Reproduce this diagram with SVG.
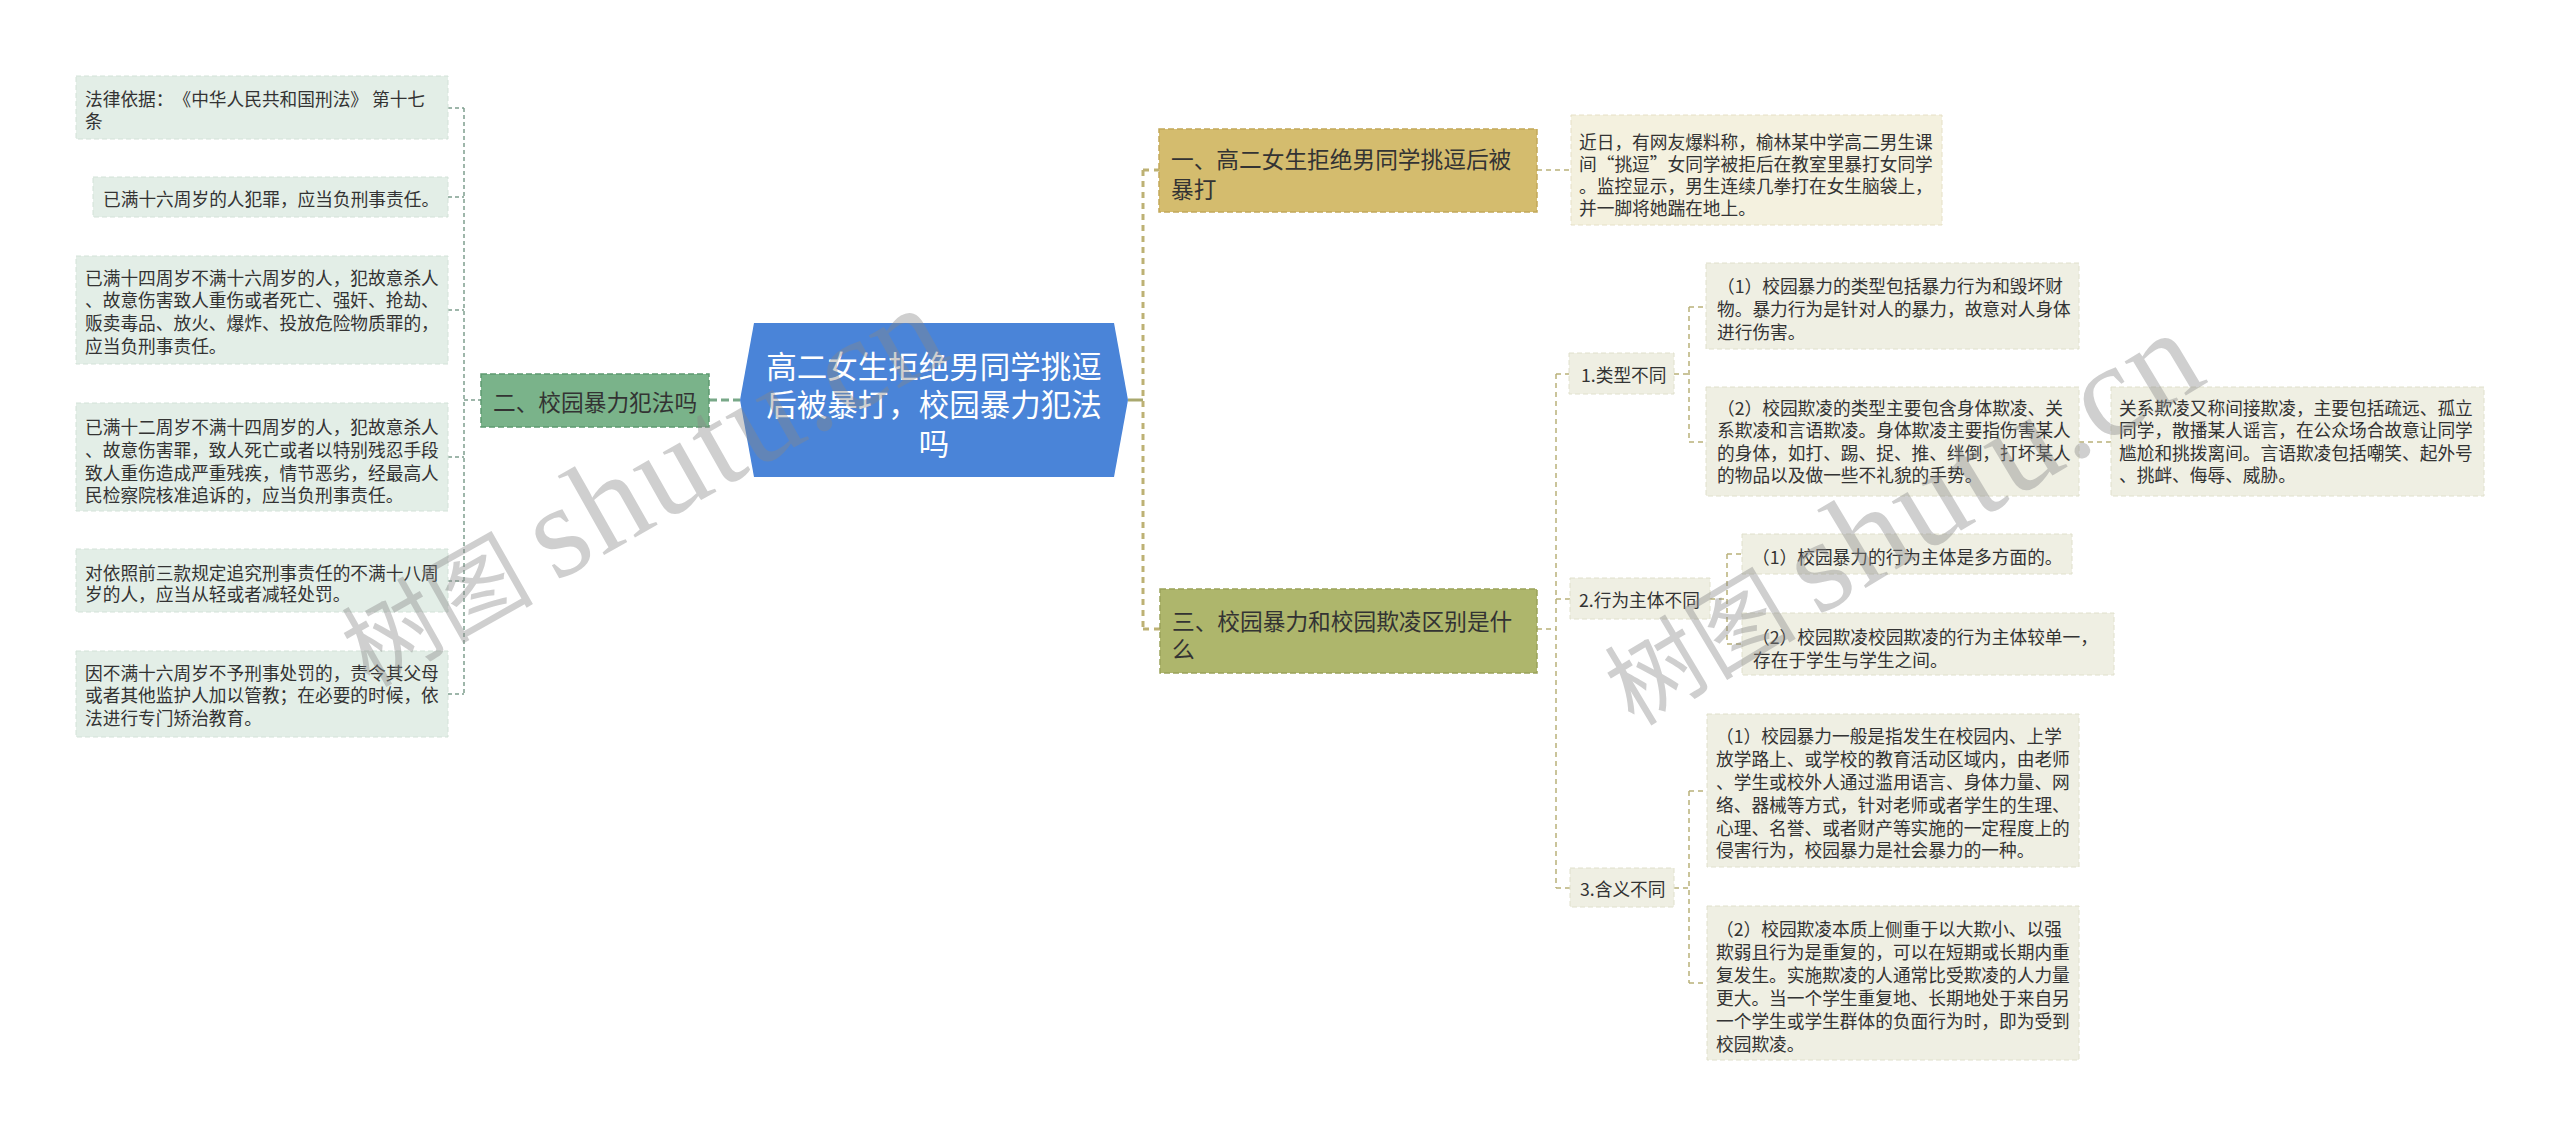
<svg xmlns="http://www.w3.org/2000/svg" width="2560" height="1137" viewBox="0 0 2560 1137">
<style>
text{font-family:"Noto Sans CJK SC","Noto Sans",sans-serif;dominant-baseline:central;fill:#333;text-spacing-trim:space-all;font-feature-settings:"chws" 0}
.lf{font-size:17.7px}
.hd{font-size:22.7px}
.gl{fill:#e3eee7;stroke:#d3e2d8;stroke-width:1;stroke-dasharray:5 3}
.cl{fill:#f4f1df;stroke:#e6e0c6;stroke-width:1;stroke-dasharray:5 3}
.ol{fill:#efefe3;stroke:#e0e0cc;stroke-width:1;stroke-dasharray:5 3}
.cg{fill:none;stroke:#7f9f8f;stroke-width:1.5;stroke-dasharray:4 3}
.cy{fill:none;stroke:#b9b17a;stroke-width:1.5;stroke-dasharray:5 4}
.wm{font-family:"Liberation Serif","Noto Sans CJK SC",serif;font-size:96px;fill:#888;opacity:0.4;dominant-baseline:alphabetic}
.wl{font-size:132px}
</style>
<g id="connectors">
<path class="cg" d="M448 108H464M448 197H464M448 310H464M448 457H464M448 581H464M448 694H464M464 108V694M464 400H481"/>
<path d="M709 400H740" fill="none" stroke="#78a888" stroke-width="3" stroke-dasharray="8 4"/>
<path d="M1128 400H1143" fill="none" stroke="#a9a86f" stroke-width="3"/>
<path d="M1143 170V629M1143 170H1159M1143 629H1160" fill="none" stroke="#bdb174" stroke-width="3" stroke-dasharray="6 5"/>
<path class="cy" d="M1537 170H1571"/>
<path class="cy" d="M1537 629H1556M1556 374V888M1556 374H1569M1556 599H1570M1556 888H1570"/>
<path class="cy" d="M1674 374H1689M1689 307V442M1689 307H1706M1689 442H1706M2079 442H2111"/>
<path class="cy" d="M1710 599H1727M1727 554V644M1727 554H1742M1727 644H1742"/>
<path class="cy" d="M1674 888H1689M1689 791V983M1689 791H1707M1689 983H1707"/>
</g>
<g id="center">
<polygon points="754,323 1114,323 1128,400 1114,477 754,477 740,400" fill="#4a84d8"/>
<text x="934" y="365" text-anchor="middle" font-size="30.5" style="fill:#fff">高二女生拒绝男同学挑逗</text>
<text x="934" y="403" text-anchor="middle" font-size="30.5" style="fill:#fff">后被暴打，校园暴力犯法</text>
<text x="934" y="442" text-anchor="middle" font-size="30.5" style="fill:#fff">吗</text>
</g>
<g id="n2">
<rect x="481" y="374" width="228" height="53" fill="#7ab38a" stroke="#5e9a70" stroke-width="1.5" stroke-dasharray="6 3"/>
<text class="hd" x="493" y="401">二、校园暴力犯法吗</text>
</g>
<g id="l1"><rect class="gl" x="76" y="76" width="372" height="63"/>
<text class="lf" x="85" y="98">法律依据：《中华人民共和国刑法》 第十七</text>
<text class="lf" x="85" y="120">条</text></g>
<g id="l2"><rect class="gl" x="93" y="177" width="355" height="40"/>
<text class="lf" x="103" y="198">已满十六周岁的人犯罪，应当负刑事责任。</text></g>
<g id="l3"><rect class="gl" x="76" y="256" width="372" height="108"/>
<text class="lf" x="85" y="277">已满十四周岁不满十六周岁的人，犯故意杀人</text>
<text class="lf" x="85" y="299">、故意伤害致人重伤或者死亡、强奸、抢劫、</text>
<text class="lf" x="85" y="322">贩卖毒品、放火、爆炸、投放危险物质罪的，</text>
<text class="lf" x="85" y="345">应当负刑事责任。</text></g>
<g id="l4"><rect class="gl" x="76" y="403" width="372" height="108"/>
<text class="lf" x="85" y="426">已满十二周岁不满十四周岁的人，犯故意杀人</text>
<text class="lf" x="85" y="449">、故意伤害罪，致人死亡或者以特别残忍手段</text>
<text class="lf" x="85" y="472">致人重伤造成严重残疾，情节恶劣，经最高人</text>
<text class="lf" x="85" y="494">民检察院核准追诉的，应当负刑事责任。</text></g>
<g id="l5"><rect class="gl" x="76" y="549" width="372" height="63"/>
<text class="lf" x="85" y="572">对依照前三款规定追究刑事责任的不满十八周</text>
<text class="lf" x="85" y="593">岁的人，应当从轻或者减轻处罚。</text></g>
<g id="l6"><rect class="gl" x="76" y="651" width="372" height="86"/>
<text class="lf" x="85" y="672">因不满十六周岁不予刑事处罚的，责令其父母</text>
<text class="lf" x="85" y="694">或者其他监护人加以管教；在必要的时候，依</text>
<text class="lf" x="85" y="717">法进行专门矫治教育。</text></g>
<g id="n1">
<rect x="1159" y="129" width="378" height="83" fill="#d4bc6e" stroke="#c2a85a" stroke-width="1.5" stroke-dasharray="6 3"/>
<text class="hd" x="1171" y="158">一、高二女生拒绝男同学挑逗后被</text>
<text class="hd" x="1171" y="188">暴打</text>
</g>
<g id="n1l"><rect class="cl" x="1571" y="115" width="371" height="110"/>
<text class="lf" x="1579" y="141">近日，有网友爆料称，榆林某中学高二男生课</text>
<text class="lf" x="1579" y="163">间“挑逗”女同学被拒后在教室里暴打女同学</text>
<text class="lf" x="1579" y="185">。监控显示，男生连续几拳打在女生脑袋上，</text>
<text class="lf" x="1579" y="207">并一脚将她踹在地上。</text></g>
<g id="n3">
<rect x="1160" y="589" width="377" height="84" fill="#aeb66c" stroke="#9aa25a" stroke-width="1.5" stroke-dasharray="6 3"/>
<text class="hd" x="1172" y="620">三、校园暴力和校园欺凌区别是什</text>
<text class="hd" x="1172" y="648">么</text>
</g>
<g id="t1"><rect class="ol" x="1569" y="353" width="105" height="41"/>
<text class="lf" x="1581" y="374">1.类型不同</text></g>
<g id="t1a"><rect class="ol" x="1706" y="263" width="373" height="86"/>
<text class="lf" x="1717" y="285">（1）校园暴力的类型包括暴力行为和毁坏财</text>
<text class="lf" x="1717" y="308">物。暴力行为是针对人的暴力，故意对人身体</text>
<text class="lf" x="1717" y="331">进行伤害。</text></g>
<g id="t1b"><rect class="ol" x="1706" y="387" width="373" height="109"/>
<text class="lf" x="1717" y="407">（2）校园欺凌的类型主要包含身体欺凌、关</text>
<text class="lf" x="1717" y="429">系欺凌和言语欺凌。身体欺凌主要指伤害某人</text>
<text class="lf" x="1717" y="452">的身体，如打、踢、捉、推、绊倒，打坏某人</text>
<text class="lf" x="1717" y="474">的物品以及做一些不礼貌的手势。</text></g>
<g id="t1c"><rect class="ol" x="2111" y="387" width="373" height="109"/>
<text class="lf" x="2119" y="407">关系欺凌又称间接欺凌，主要包括疏远、孤立</text>
<text class="lf" x="2119" y="429">同学，散播某人谣言，在公众场合故意让同学</text>
<text class="lf" x="2119" y="452">尴尬和挑拨离间。言语欺凌包括嘲笑、起外号</text>
<text class="lf" x="2119" y="474">、挑衅、侮辱、威胁。</text></g>
<g id="t2"><rect class="ol" x="1570" y="578" width="140" height="41"/>
<text class="lf" x="1579" y="599">2.行为主体不同</text></g>
<g id="t2a"><rect class="ol" x="1742" y="534" width="330" height="40"/>
<text class="lf" x="1752" y="556">（1）校园暴力的行为主体是多方面的。</text></g>
<g id="t2b"><rect class="ol" x="1742" y="613" width="372" height="62"/>
<text class="lf" x="1752" y="636">（2）校园欺凌校园欺凌的行为主体较单一，</text>
<text class="lf" x="1753" y="659">存在于学生与学生之间。</text></g>
<g id="t3"><rect class="ol" x="1570" y="868" width="104" height="39"/>
<text class="lf" x="1580" y="888">3.含义不同</text></g>
<g id="t3a"><rect class="ol" x="1707" y="714" width="372" height="153"/>
<text class="lf" x="1716" y="735">（1）校园暴力一般是指发生在校园内、上学</text>
<text class="lf" x="1716" y="758">放学路上、或学校的教育活动区域内，由老师</text>
<text class="lf" x="1716" y="781">、学生或校外人通过滥用语言、身体力量、网</text>
<text class="lf" x="1716" y="804">络、器械等方式，针对老师或者学生的生理、</text>
<text class="lf" x="1716" y="827">心理、名誉、或者财产等实施的一定程度上的</text>
<text class="lf" x="1716" y="849">侵害行为，校园暴力是社会暴力的一种。</text></g>
<g id="t3b"><rect class="ol" x="1707" y="906" width="372" height="154"/>
<text class="lf" x="1716" y="928">（2）校园欺凌本质上侧重于以大欺小、以强</text>
<text class="lf" x="1716" y="951">欺弱且行为是重复的，可以在短期或长期内重</text>
<text class="lf" x="1716" y="974">复发生。实施欺凌的人通常比受欺凌的人力量</text>
<text class="lf" x="1716" y="997">更大。当一个学生重复地、长期地处于来自另</text>
<text class="lf" x="1716" y="1020">一个学生或学生群体的负面行为时，即为受到</text>
<text class="lf" x="1716" y="1043">校园欺凌。</text></g>
<g id="watermarks">
<text class="wm" transform="translate(369,688) rotate(-29.5)">树图<tspan class="wl" dx="22" letter-spacing="2">shutu.cn</tspan></text>
<text class="wm" transform="translate(1634,727) rotate(-31)">树图<tspan class="wl" dx="22" letter-spacing="2">shutu.cn</tspan></text>
</g>
</svg>
